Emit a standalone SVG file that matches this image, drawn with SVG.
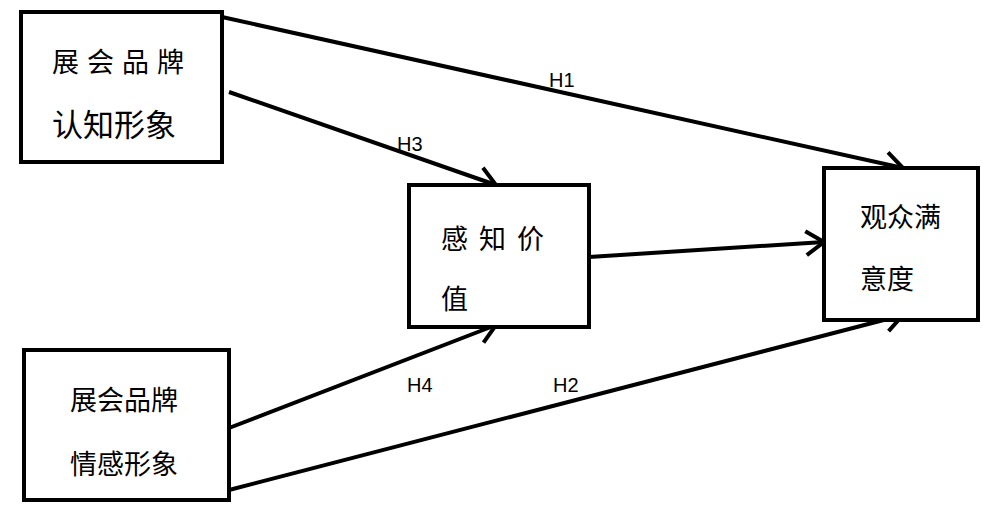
<svg xmlns="http://www.w3.org/2000/svg" width="1005" height="513" viewBox="0 0 1005 513">
<style>
.box{fill:#fff;stroke:#000;stroke-width:4}
.t{font-family:"Noto Sans CJK SC","Liberation Sans",sans-serif;font-size:27px;fill:#000}
.l{font-family:"Liberation Sans",sans-serif;font-size:20px;fill:#000}
.c{stroke:#000;stroke-width:4;fill:none}
</style>
<defs>
<marker id="a" markerUnits="userSpaceOnUse" markerWidth="40" markerHeight="40" refX="26" refY="20" orient="auto" viewBox="0 0 40 40">
<polyline points="8,8 26,20 8,32" fill="none" stroke="#000" stroke-width="4"/>
</marker>
</defs>
<rect width="1005" height="513" fill="#fff"/>
<g id="connectors">
<line class="c" x1="222" y1="17" x2="903" y2="168" marker-end="url(#a)"/>
<line class="c" x1="229" y1="92" x2="496" y2="185" marker-end="url(#a)"/>
<line class="c" x1="229" y1="428" x2="496" y2="325" marker-end="url(#a)"/>
<line class="c" x1="229" y1="490" x2="903" y2="315" marker-end="url(#a)"/>
<line class="c" x1="589" y1="257" x2="824" y2="242" marker-end="url(#a)"/>
<text class="l" x="549" y="87">H1</text>
<text class="l" x="397" y="151">H3</text>
<text class="l" x="407" y="392">H4</text>
<text class="l" x="553" y="392">H2</text>
</g>
<g id="n1"><rect class="box" x="21" y="12" width="201" height="150"/>
<text class="t" x="52" y="72" letter-spacing="8">展会品牌</text>
<text class="t" x="52" y="136" style="font-size:31px">认知形象</text></g>
<g id="n2"><rect class="box" x="409" y="185" width="180" height="142"/>
<text class="t" x="441" y="249" letter-spacing="11">感知价</text>
<text class="t" x="441" y="309">值</text></g>
<g id="n3"><rect class="box" x="824" y="168" width="154" height="152"/>
<text class="t" x="860" y="227">观众满</text>
<text class="t" x="860" y="289">意度</text></g>
<g id="n4"><rect class="box" x="24" y="350" width="205" height="150"/>
<text class="t" x="70" y="410">展会品牌</text>
<text class="t" x="70" y="474">情感形象</text></g>
</svg>
